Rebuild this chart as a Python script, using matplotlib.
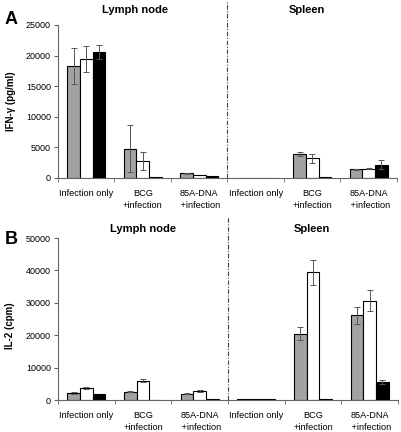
import numpy as np
import matplotlib.pyplot as plt

plt.rcParams['font.family'] = ['Liberation Sans', 'DejaVu Sans']

categories = ['Infection only', 'BCG\n+infection', '85A-DNA\n +infection',
              'Infection only', 'BCG\n+infection', '85A-DNA\n +infection']

# panel A: IFN-gamma (pg/ml)
ifn_gray = [18300, 4800, 750, 0, 3900, 1400]
ifn_gray_err = [3000, 3900, 120, 0, 300, 100]
ifn_white = [19500, 2800, 550, 0, 3200, 1500]
ifn_white_err = [2100, 1500, 0, 0, 800, 60]
ifn_black = [20600, 100, 350, 0, 200, 2200]
ifn_black_err = [1200, 0, 0, 0, 0, 700]

# panel B: IL-2 (cpm)
il2_gray = [2200, 2500, 2000, 200, 20400, 26200]
il2_gray_err = [200, 150, 150, 0, 2000, 2600]
il2_white = [3600, 6000, 2900, 200, 39400, 30700]
il2_white_err = [300, 500, 300, 0, 3800, 3100]
il2_black = [1700, 0, 200, 200, 400, 5600]
il2_black_err = [0, 0, 0, 0, 0, 600]

W, H = 402, 432
fig = plt.figure(figsize=(W / 100, H / 100), dpi=100)


def px_ax(x0, y_top, x1, y_bot):
    return fig.add_axes([x0 / W, 1 - y_bot / H, (x1 - x0) / W, (y_bot - y_top) / H])


def draw_panel(ax, series, ymax, ystep, ylabel, line_top):
    x = np.arange(len(categories))
    bw = 0.225
    colors = ['#a2a2a2', 'white', 'black']
    for i, (vals, errs) in enumerate(series):
        pos = x + (i - 1) * bw
        ax.bar(pos, vals, bw, color=colors[i], edgecolor='black', linewidth=0.8, zorder=2)
        e = np.array(errs)
        m = e > 0
        ax.errorbar(pos[m], np.array(vals)[m], yerr=e[m], fmt='none',
                    ecolor='#555555', elinewidth=0.7, capsize=2.5, capthick=0.7, zorder=3)
    ax.set_xlim(-0.5, len(categories) - 0.5)
    ax.set_ylim(0, ymax)
    ax.set_yticks(np.arange(0, ymax + 1, ystep))
    ax.set_xticks(x)
    ax.set_xticklabels(categories, fontsize=6.6, linespacing=1.35)
    ax.set_xticks(np.arange(-0.5, len(categories), 1), minor=True)
    ax.tick_params(axis='x', which='major', length=0, pad=8)
    ax.tick_params(axis='x', which='minor', length=3, color='#666666')
    ax.tick_params(axis='y', length=3, labelsize=6.5, color='#666666', pad=2)
    for s in ['top', 'right']:
        ax.spines[s].set_visible(False)
    for s in ['left', 'bottom']:
        ax.spines[s].set_color('#666666')
        ax.spines[s].set_linewidth(0.8)
    ax.set_ylabel(ylabel, fontsize=7, fontweight='bold', labelpad=4)
    ax.axvline(2.5, ymin=0, ymax=line_top, color='#444444', linewidth=0.8,
               linestyle=(0, (4, 1.5, 1, 1.5)), clip_on=False)


axA = px_ax(58, 25, 397, 178)
draw_panel(axA, [(ifn_gray, ifn_gray_err), (ifn_white, ifn_white_err),
                 (ifn_black, ifn_black_err)], 25000, 5000, 'IFN-\u03b3 (pg/ml)', 1.16)
axA.yaxis.set_label_coords(-0.125, 0.5)

axB = px_ax(58, 238, 398, 400)
draw_panel(axB, [(il2_gray, il2_gray_err), (il2_white, il2_white_err),
                 (il2_black, il2_black_err)], 50000, 10000, 'IL-2 (cpm)', 1.13)
axB.yaxis.set_label_coords(-0.125, 0.46)

fig.text(5 / W, 1 - 20 / H, 'A', fontsize=13, fontweight='bold', va='center')
fig.text(5 / W, 1 - 240 / H, 'B', fontsize=13, fontweight='bold', va='center')
fig.text(135 / W, 1 - 10 / H, 'Lymph node', fontsize=8, fontweight='bold', ha='center', va='center')
fig.text(307 / W, 1 - 10 / H, 'Spleen', fontsize=8, fontweight='bold', ha='center', va='center')
fig.text(143 / W, 1 - 229 / H, 'Lymph node', fontsize=8, fontweight='bold', ha='center', va='center')
fig.text(312 / W, 1 - 229 / H, 'Spleen', fontsize=8, fontweight='bold', ha='center', va='center')

fig.savefig('out.png', dpi=100)
